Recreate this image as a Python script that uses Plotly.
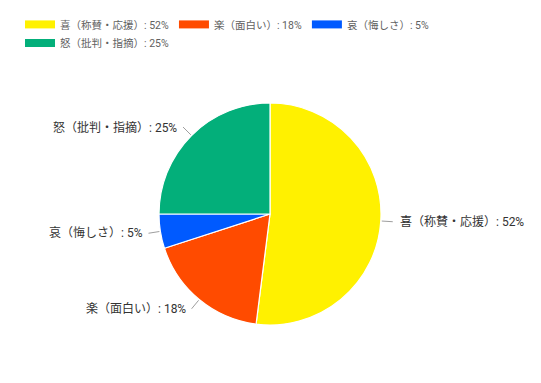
import math
import plotly.graph_objects as go

names = ["喜（称賛・応援）", "楽（面白い）", "哀（悔しさ）", "怒（批判・指摘）"]
values = [52, 18, 5, 25]
colors = ["#FFF100", "#FF4B00", "#005AFF", "#03AF7A"]

labels = [f"{n}: {v}%" for n, v in zip(names, values)]

font_family = "Roboto, Noto Sans CJK JP, Arial, sans-serif"

W, H = 541, 383
cx, cy, r = 262, 206, 111          # pie centre / radius in px (layout)
mt, mb = cy - r, H - (cy + r)
ph = H - mt - mb

def px(x):
    return x / W

def py(y):
    return (H - mb - y) / ph

fig = go.Figure()
fig.add_trace(go.Pie(
    labels=labels, values=values, sort=False, direction="clockwise", rotation=0,
    marker=dict(colors=colors, line=dict(color="white", width=1.2)),
    textinfo="none", automargin=False,
    showlegend=False, hoverinfo="label",
    domain=dict(x=[0.0, 2 * cx / W], y=[0.0, 1.0]),
))
for i, (lab, c) in enumerate(zip(labels, colors)):
    fig.add_trace(go.Scatter(
        x=[None], y=[None], mode="lines", name=lab,
        line=dict(color=c, width=8), showlegend=True,
        legend="legend" if i < 3 else "legend2",
    ))

# leader lines + labels derived from slice mid-angles
total = sum(values)
shapes, annotations = [], []
cum = 0
for lab, v in zip(labels, values):
    mid = (cum + v / 2) / total * 2 * math.pi
    cum += v
    sx, sy = math.sin(mid), -math.cos(mid)
    x0, y0 = cx + sx * (r + 1), cy + sy * (r + 1)
    x1, y1 = cx + sx * (r + 12), cy + sy * (r + 12)
    shapes.append(dict(type="line", xref="paper", yref="paper",
                       x0=px(x0), x1=px(x1), y0=py(y0), y1=py(y1),
                       line=dict(color="#9E9E9E", width=1)))
    right = sx >= 0
    tx = x1 + (5 if right else -4)
    annotations.append(dict(xref="paper", yref="paper", x=px(tx), y=py(y1),
                            text=lab, showarrow=False,
                            xanchor="left" if right else "right", yanchor="middle",
                            font=dict(size=12, color="#333333", family=font_family)))

leg_common = dict(orientation="h", xref="container", yref="container",
                  xanchor="left", yanchor="top",
                  font=dict(size=10.5, color="#616161", family=font_family),
                  itemwidth=30, tracegroupgap=0, bgcolor="rgba(0,0,0,0)")

fig.update_layout(
    width=W, height=H,
    margin=dict(l=0, r=0, t=mt, b=mb, autoexpand=False),
    paper_bgcolor="white", plot_bgcolor="white",
    xaxis=dict(visible=False), yaxis=dict(visible=False),
    shapes=shapes, annotations=annotations,
    legend=dict(x=0.0222, y=0.995, **leg_common),
    legend2=dict(x=0.0222, y=0.9465, **leg_common),
    font=dict(family=font_family),
)
fig.write_html("out.html")
